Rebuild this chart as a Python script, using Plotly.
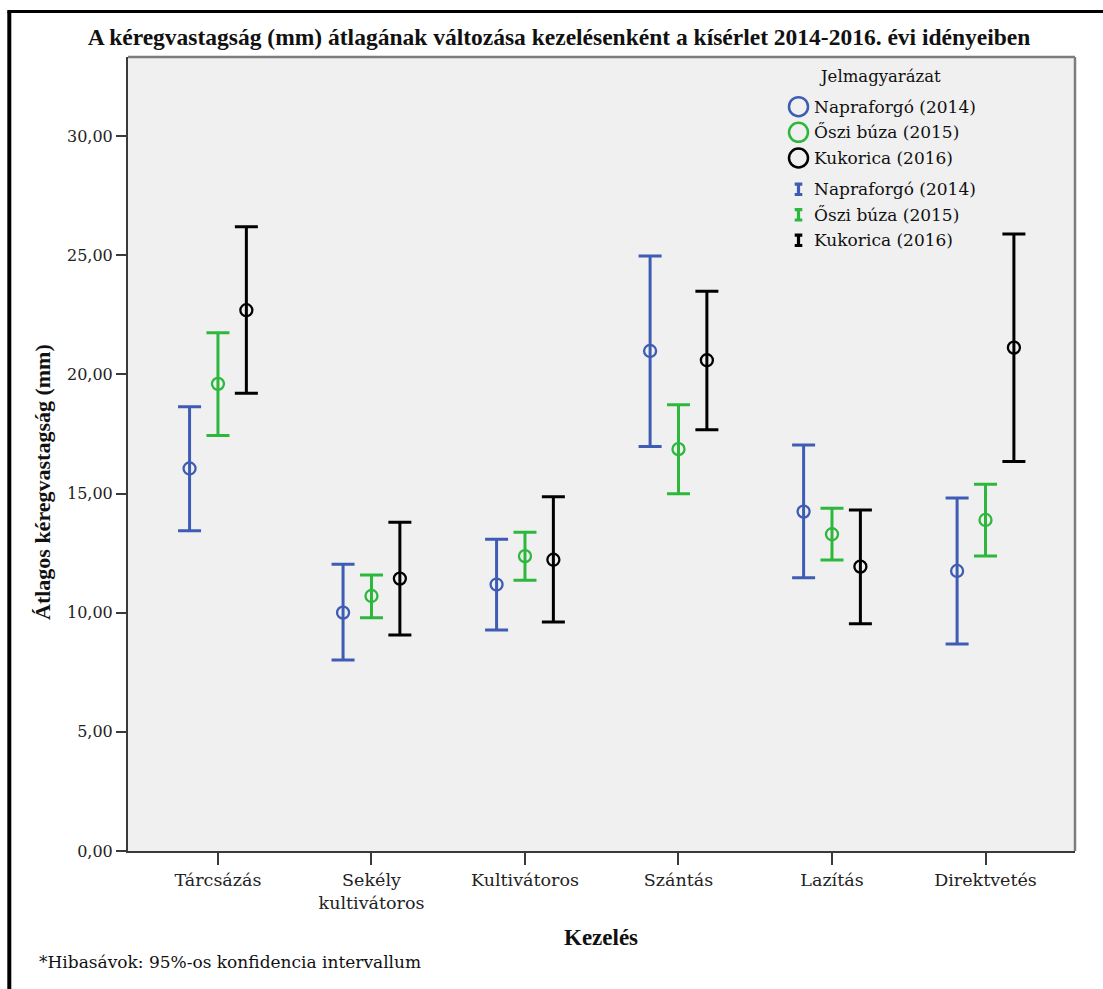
import plotly.graph_objects as go

# Treatments (x categories)
treatments = ["Tárcsázás", "Sekély<br>kultivátoros", "Kultivátoros", "Szántás", "Lazítás", "Direktvetés"]

# Series names
series_names = ["Napraforgó (2014)", "Őszi búza (2015)", "Kukorica (2016)"]

# Mean crust thickness (mm) and 95% CI bounds per treatment
napraforgo_mean = [16.05, 10.00, 11.18, 20.98, 14.24, 11.75]
napraforgo_low = [13.44, 8.01, 9.27, 16.97, 11.47, 8.69]
napraforgo_high = [18.64, 12.03, 13.08, 24.97, 17.03, 14.81]

oszi_buza_mean = [19.60, 10.70, 12.37, 16.86, 13.29, 13.89]
oszi_buza_low = [17.43, 9.79, 11.36, 14.99, 12.21, 12.38]
oszi_buza_high = [21.74, 11.58, 13.37, 18.72, 14.38, 15.39]

kukorica_mean = [22.69, 11.43, 12.22, 20.59, 11.93, 21.12]
kukorica_low = [19.21, 9.06, 9.61, 17.67, 9.54, 16.34]
kukorica_high = [26.19, 13.79, 14.86, 23.49, 14.31, 25.89]

y_tick_values = [0, 5, 10, 15, 20, 25, 30]

colors = ["#3F5CB4", "#2DB83D", "#000000"]
offsets = [-0.185, 0.0, 0.185]

means = [napraforgo_mean, oszi_buza_mean, kukorica_mean]
lows = [napraforgo_low, oszi_buza_low, kukorica_low]
highs = [napraforgo_high, oszi_buza_high, kukorica_high]

# Figure geometry
W, H = 1103, 989
ML, MR, MT, MB = 128, 28, 57, 138
PW, PH = W - ML - MR, H - MT - MB

SERIF = "DejaVu Serif"
SERIF_BOLD = "Liberation Serif"


def px_x(px):
    return (px - ML) / PW


def px_y(py):
    return (H - MB - py) / PH


fig = go.Figure()

for name, m, lo, hi, col, off in zip(series_names, means, lows, highs, colors, offsets):
    xs = [i + off for i in range(len(treatments))]
    fig.add_trace(go.Scatter(
        x=xs, y=m, mode="markers", name=name, showlegend=False,
        marker=dict(symbol="circle-open", size=12, color=col, line=dict(width=2.3, color=col)),
        error_y=dict(
            type="data", symmetric=False,
            array=[h - v for h, v in zip(hi, m)],
            arrayminus=[v - l for v, l in zip(m, lo)],
            color=col, thickness=3, width=11.5,
        ),
        hoverinfo="skip",
    ))

shapes = []
annotations = []

# plot frame: top and right edges in grey
shapes.append(dict(type="line", xref="paper", yref="paper", x0=0, x1=1, y0=1, y1=1,
                   line=dict(color="#7d7d7d", width=2.5)))
shapes.append(dict(type="line", xref="paper", yref="paper", x0=1, x1=1, y0=0, y1=1,
                   line=dict(color="#7d7d7d", width=2.5)))

# outer black frame (left and top edges)
shapes.append(dict(type="line", xref="paper", yref="paper", x0=px_x(9.3), x1=px_x(9.3),
                   y0=px_y(11.5), y1=px_y(1000), line=dict(color="#000000", width=4)))
shapes.append(dict(type="line", xref="paper", yref="paper", x0=px_x(7.3), x1=px_x(1110),
                   y0=px_y(11.5), y1=px_y(11.5), line=dict(color="#000000", width=3)))

# legend
LEG_SYM_X = 798.5
LEG_TXT_X = 812
circle_rows = [106.7, 132.3, 158.0]
bar_rows = [189.3, 214.8, 240.3]
annotations.append(dict(text="Jelmagyarázat", xref="paper", yref="paper",
                        x=px_x(880), y=px_y(76.5), xanchor="center", yanchor="middle",
                        showarrow=False, font=dict(family=SERIF, size=16.5, color="#111111")))
r = 9.5
for name, col, yy in zip(series_names, colors, circle_rows):
    shapes.append(dict(type="circle", xref="paper", yref="paper",
                       x0=px_x(LEG_SYM_X - r), x1=px_x(LEG_SYM_X + r),
                       y0=px_y(yy + r), y1=px_y(yy - r),
                       line=dict(color=col, width=2.5)))
    annotations.append(dict(text=name, xref="paper", yref="paper", x=px_x(LEG_TXT_X), y=px_y(yy),
                            xanchor="left", yanchor="middle", showarrow=False,
                            font=dict(family=SERIF, size=17, color="#111111")))
for name, col, yy in zip(series_names, colors, bar_rows):
    hw, hh = 3.8, 5.2
    path = (f"M {px_x(LEG_SYM_X - hw)},{px_y(yy - hh)} L {px_x(LEG_SYM_X + hw)},{px_y(yy - hh)} "
            f"M {px_x(LEG_SYM_X)},{px_y(yy - hh)} L {px_x(LEG_SYM_X)},{px_y(yy + hh)} "
            f"M {px_x(LEG_SYM_X - hw)},{px_y(yy + hh)} L {px_x(LEG_SYM_X + hw)},{px_y(yy + hh)}")
    shapes.append(dict(type="path", xref="paper", yref="paper", path=path,
                       line=dict(color=col, width=3.2)))
    annotations.append(dict(text=name, xref="paper", yref="paper", x=px_x(LEG_TXT_X), y=px_y(yy),
                            xanchor="left", yanchor="middle", showarrow=False,
                            font=dict(family=SERIF, size=17, color="#111111")))

# axis titles and footnote
annotations.append(dict(text="<b>Átlagos kéregvastagság (mm)</b>", xref="paper", yref="paper",
                        x=px_x(42), y=px_y(482), xanchor="center", yanchor="middle", textangle=-90,
                        showarrow=False, font=dict(family=SERIF_BOLD, size=22, color="#111111")))
annotations.append(dict(text="<b>Kezelés</b>", xref="paper", yref="paper",
                        x=px_x(601), y=px_y(937), xanchor="center", yanchor="middle",
                        showarrow=False, font=dict(family=SERIF_BOLD, size=23, color="#111111")))
annotations.append(dict(text="*Hibasávok: 95%-os konfidencia intervallum", xref="paper", yref="paper",
                        x=px_x(37), y=px_y(962), xanchor="left", yanchor="middle",
                        showarrow=False, font=dict(family=SERIF, size=17, color="#111111")))

fig.update_layout(
    width=W, height=H,
    margin=dict(l=ML, r=MR, t=MT, b=MB),
    paper_bgcolor="#ffffff",
    plot_bgcolor="#f0f0f0",
    separators=", ",
    title=dict(
        text="<b>A kéregvastagság (mm) átlagának változása kezelésenként a kísérlet 2014-2016. évi idényeiben</b>",
        x=559 / W, xanchor="center", xref="container",
        y=1 - 37 / H, yanchor="middle", yref="container",
        font=dict(family=SERIF_BOLD, size=23.5, color="#111111"),
    ),
    xaxis=dict(
        range=[-0.586, 5.583], tickmode="array",
        tickvals=list(range(len(treatments))), ticktext=treatments,
        showgrid=False, zeroline=False,
        showline=True, linecolor="#3a3a3a", linewidth=2,
        ticks="outside", ticklen=12, tickwidth=1.5, tickcolor="#3a3a3a",
        tickfont=dict(family=SERIF, size=17.5, color="#222222"),
    ),
    yaxis=dict(
        range=[0, PH / ((H - MB - 136) / 30)], tickmode="array",
        tickvals=y_tick_values, tickformat=".2f",
        showgrid=False, zeroline=False,
        showline=True, linecolor="#3a3a3a", linewidth=2,
        ticks="outside", ticklen=10, tickwidth=1.5, tickcolor="#3a3a3a",
        tickfont=dict(family=SERIF, size=16, color="#222222"),
    ),
    shapes=shapes,
    annotations=annotations,
    showlegend=False,
)

fig.write_html("out.html")
